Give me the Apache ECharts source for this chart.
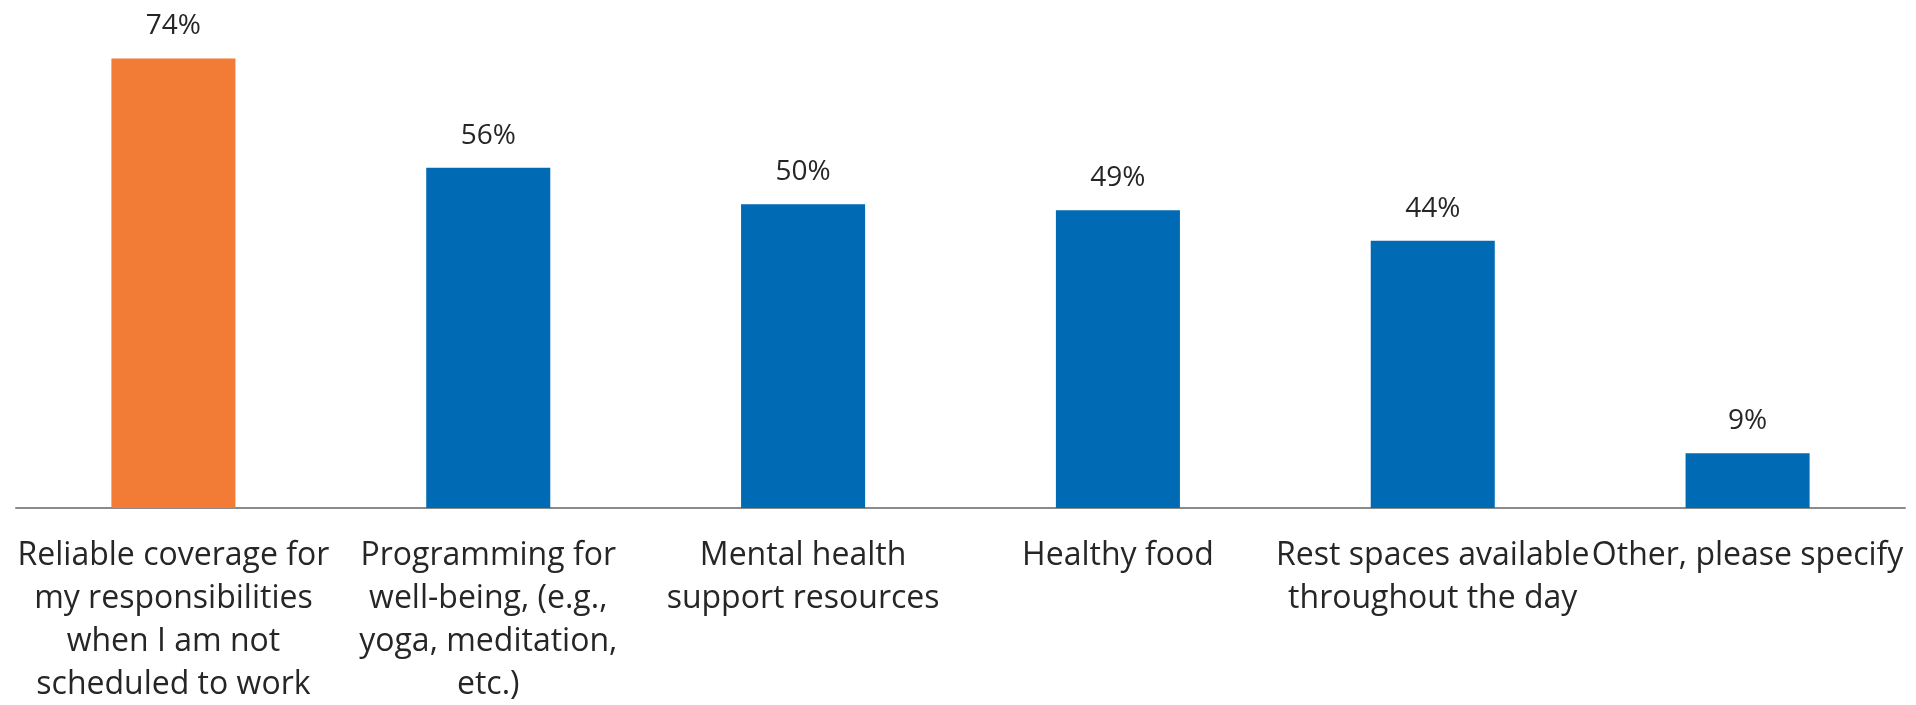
<!DOCTYPE html>
<html>
<head>
<meta charset="utf-8">
<script src="https://cdn.jsdelivr.net/npm/echarts@6/dist/echarts.min.js"></script>
<style>
html,body{margin:0;padding:0;background:#fff;}
#chart{width:1916px;height:705px;}
</style>
</head>
<body>
<div id="chart"></div>
<script>
var categories = [
  "Reliable coverage for\nmy responsibilities\nwhen I am not\nscheduled to work",
  "Programming for\nwell-being, (e.g.,\nyoga, meditation,\netc.)",
  "Mental health\nsupport resources",
  "Healthy food",
  "Rest spaces available\nthroughout the day",
  "Other, please specify"
];
var values = [74, 56, 50, 49, 44, 9];
var highlightIndex = 0;
var colorHighlight = "#F27B35";
var colorBase = "#006BB4";

var chart = echarts.init(document.getElementById('chart'), null, {renderer: 'canvas'});
var fontFam = '"Open Sans", Lato, sans-serif';
chart.setOption({
  animation: false,
  backgroundColor: '#ffffff',
  grid: {left: 16, right: 11, top: 22, bottom: 197, containLabel: false, outerBoundsMode: 'none'},
  xAxis: {
    type: 'category',
    data: categories,
    axisLine: {show: true, lineStyle: {color: '#8a8a8a', width: 2}},
    axisTick: {show: false},
    axisLabel: {
      interval: 0,
      margin: 26,
      fontFamily: fontFam,
      fontSize: 32,
      lineHeight: 43,
      color: '#262626',
      align: 'center'
    }
  },
  yAxis: {
    type: 'value',
    min: 0,
    max: 80,
    show: false,
    splitLine: {show: false}
  },
  series: [{
    type: 'bar',
    barCategoryGap: '60.6%',
    data: values.map(function (v, i) {
      return {value: v, itemStyle: {color: i === highlightIndex ? colorHighlight : colorBase}};
    }),
    label: {
      show: true,
      position: 'top',
      distance: 18,
      formatter: '{c}%',
      fontFamily: fontFam,
      fontSize: 28,
      color: '#262626'
    }
  }]
});
</script>
</body>
</html>
